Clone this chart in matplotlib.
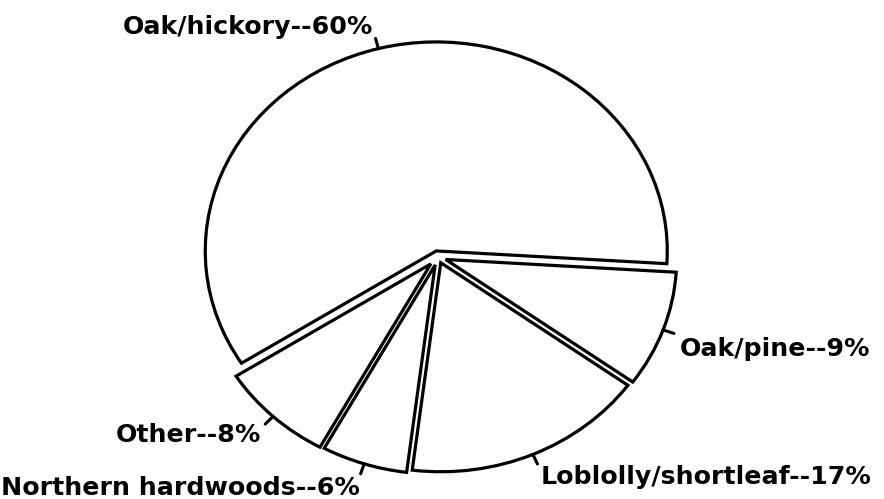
import numpy as np
import matplotlib
matplotlib.use("Agg")
import matplotlib.pyplot as plt

# Data
labels = ["Oak/hickory", "Other", "Northern hardwoods", "Loblolly/shortleaf", "Oak/pine"]
shares = [60, 8, 6, 17, 9]

W, H, DPI = 884, 499, 100
RX_PX, RY_PX = 231.0, 209.0
CX, CY = 438.0, 257.0

fig = plt.figure(figsize=(W / DPI, H / DPI), dpi=DPI)
ax = fig.add_axes([0, 0, 1, 1])

explode = [0.03, 0.045, 0.04, 0.03, 0.035]
wedges, _ = ax.pie(shares, startangle=-3.5, counterclock=True, explode=explode,
                   colors=["white"] * len(shares),
                   wedgeprops=dict(edgecolor="black", linewidth=2.3),
                   radius=1.0, normalize=True)
ax.set_aspect("auto")
ax.set_xlim(-CX / RX_PX, (W - CX) / RX_PX)
ax.set_ylim(-(H - CY) / RY_PX, CY / RY_PX)
ax.axis("off")

# label layout: (ha, va, offset in pixels from tick end)
layout = {
    "Oak/hickory": ("right", "center", (-3, 11)),
    "Other": ("right", "center", (-4, -11)),
    "Northern hardwoods": ("right", "center", (-1, -14)),
    "Loblolly/shortleaf": ("left", "center", (3, -13)),
    "Oak/pine": ("left", "center", (6, -16)),
}

for w, lab, val, ex in zip(wedges, labels, shares, explode):
    ang = np.deg2rad((w.theta1 + w.theta2) / 2)
    ox, oy = ex * np.cos(ang), ex * np.sin(ang)
    r0, r1 = 1.0, 1.05
    x0, y0 = ox + r0 * np.cos(ang), oy + r0 * np.sin(ang)
    x1, y1 = ox + r1 * np.cos(ang), oy + r1 * np.sin(ang)
    ax.plot([x0, x1], [y0, y1], color="black", lw=2.2, solid_capstyle="round")
    ha, va, off = layout[lab]
    ax.annotate(f"{lab}--{val}%", xy=(x1, y1), xytext=off, textcoords="offset pixels",
                ha=ha, va=va, fontsize=18.2, fontweight="bold", family="DejaVu Sans",
                color="black")

fig.savefig("out.png", dpi=DPI, facecolor="white")
